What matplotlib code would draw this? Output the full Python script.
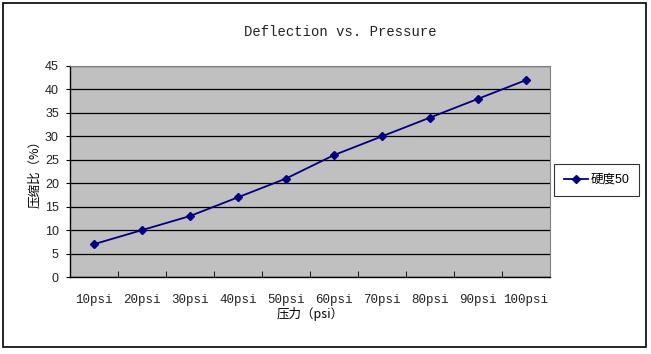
import matplotlib.pyplot as plt
from matplotlib.patches import Rectangle
import numpy as np

plt.rcParams['font.family'] = ['Liberation Mono', 'Noto Sans CJK SC', 'DejaVu Sans']

categories = ["10psi", "20psi", "30psi", "40psi", "50psi",
              "60psi", "70psi", "80psi", "90psi", "100psi"]
ratio = [7, 10, 13, 17, 21, 26, 30, 34, 38, 42]
series_name = "硬度50"

W, H = 651, 354
fig = plt.figure(figsize=(W / 100, H / 100), dpi=100)
fig.patch.set_facecolor("white")

# outer chart border
fig.add_artist(Rectangle((3 / W, 1 - 347 / H), 643 / W, 344 / H,
                         transform=fig.transFigure, fill=False,
                         edgecolor="black", linewidth=1.2))

ax = fig.add_axes([70 / W, 1 - 277 / H, 480 / W, 211 / H])
ax.set_facecolor("#c0c0c0")

x = np.arange(len(categories))
ax.plot(x, ratio, color="#000080", linewidth=1.3, marker="D",
        markersize=4.5, label=series_name)

ax.set_xlim(-0.5, len(categories) - 0.5)
ax.set_ylim(0, 45)
ax.set_yticks(np.arange(0, 46, 5))
ax.yaxis.grid(True, color="black", linewidth=0.9)
ax.set_axisbelow(True)

ax.set_xticks(x)
ax.set_xticklabels(categories, fontsize=9, color="#222222")
ax.set_xticks(np.arange(-0.5, len(categories), 1), minor=True)
ax.tick_params(axis="x", which="major", length=0, pad=12)
ax.tick_params(axis="x", which="minor", length=4, direction="in", color="black")
ax.tick_params(axis="y", length=3, pad=5, color="black", labelsize=9, labelcolor="#222222")
for lbl in ax.get_yticklabels():
    lbl.set_fontfamily(["Liberation Sans", "DejaVu Sans"])

for s in ["top", "right"]:
    ax.spines[s].set_color("#808080")
    ax.spines[s].set_linewidth(0.8)
for s in ["left", "bottom"]:
    ax.spines[s].set_color("black")
    ax.spines[s].set_linewidth(1.0)

ax.set_xlabel("压力（psi）", fontsize=9, labelpad=1,
              family=["Noto Sans CJK SC", "DejaVu Sans"])
ax.set_ylabel("压缩比（%）", fontsize=9, labelpad=3,
              family=["Noto Sans CJK SC", "DejaVu Sans"])

fig.text(340 / W, 1 - 32 / H, "Deflection vs. Pressure", fontsize=10,
         ha="center", va="center", color="#222222")

leg = fig.legend(loc="center left", bbox_to_anchor=(554 / W, 1 - 180 / H),
                 frameon=True, fancybox=False,
                 prop={"family": ["Liberation Sans", "Noto Sans CJK SC"], "size": 9},
                 handlelength=1.9, borderpad=0.8, handletextpad=0.2,
                 borderaxespad=0.0)
leg.get_frame().set_edgecolor("black")
leg.get_frame().set_linewidth(0.8)

fig.savefig("out.png", dpi=100)
